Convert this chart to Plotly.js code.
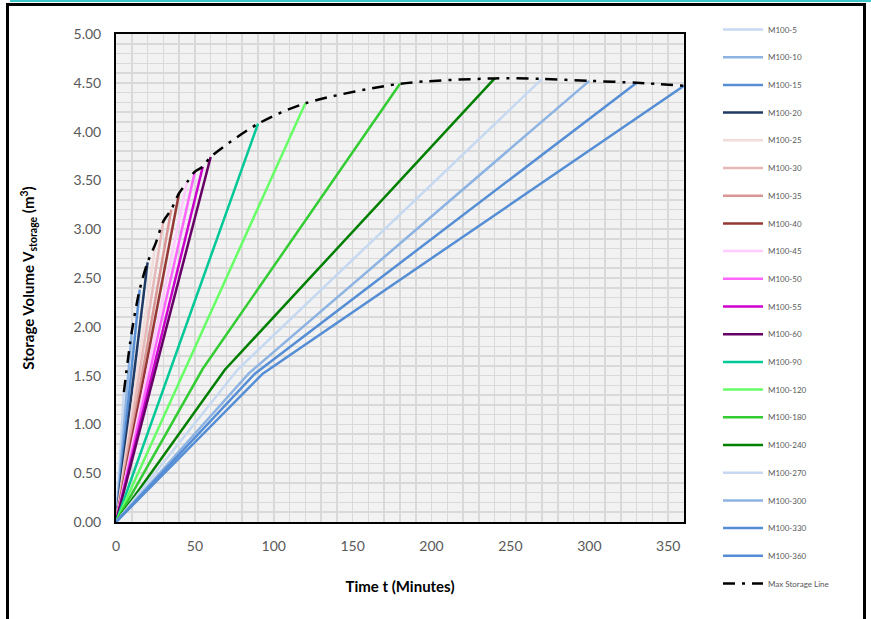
<!DOCTYPE html>
<html>
<head>
<meta charset="utf-8">
<script src="https://cdn.plot.ly/plotly-3.0.1.min.js"></script>
<style>
  html, body { margin: 0; padding: 0; background: #ffffff; overflow: hidden; }
  #chart { width: 871px; height: 619px; }
  #frame { position: absolute; left: 6px; top: 3px; width: 860px; height: 700px; border: 3px solid #000; box-sizing: border-box; pointer-events: none; }
  #topline { position: absolute; left: 10px; top: 0px; right: 0px; height: 2px; background: #3cc8c8; pointer-events: none; }
</style>
</head>
<body>
<div id="chart"></div>
<div id="topline"></div>
<div id="frame"></div>
<script>
// Series names and durations (minutes)
const seriesNames = ["M100-5","M100-10","M100-15","M100-20","M100-25","M100-30","M100-35","M100-40","M100-45","M100-50","M100-55","M100-60","M100-90","M100-120","M100-180","M100-240","M100-270","M100-300","M100-330","M100-360"];
const durations   = [5, 10, 15, 20, 25, 30, 35, 40, 45, 50, 55, 60, 90, 120, 180, 240, 270, 300, 330, 360];
// Peak storage volume reached at the end of each duration (m3)
const peakVolumes = [1.33, 1.95, 2.38, 2.66, 2.85, 3.08, 3.20, 3.37, 3.48, 3.59, 3.64, 3.74, 4.08, 4.29, 4.49, 4.545, 4.54, 4.52, 4.50, 4.47];
// Knee (change of filling rate) time and volume; null = straight line
const kneeTimes   = [null, null, null, null, null, null, null, null, null, null, null, null, null, null, 55, 69, 77, 84, 88, 93];
const kneeVolumes = [null, null, null, null, null, null, null, null, null, null, null, null, null, null, 1.57, 1.56, 1.56, 1.52, 1.52, 1.52];
const seriesColors = ["#c6d9f1","#8db3e2","#558ed5","#1f3864","#f2dcdb","#e6b9b8","#d99694","#953735","#ffccff","#ff66ff","#cc00cc","#660066","#00c896","#66ff66","#33cc33","#008000","#c6d9f1","#8db3e2","#558ed5","#558ed5"];

const xTickVals = [0, 50, 100, 150, 200, 250, 300, 350];
const yTickVals = [0, 0.5, 1, 1.5, 2, 2.5, 3, 3.5, 4, 4.5, 5];

const traces = [];
for (let i = 0; i < seriesNames.length; i++) {
  const xs = [0], ys = [0];
  if (kneeTimes[i] !== null) { xs.push(kneeTimes[i]); ys.push(kneeVolumes[i]); }
  xs.push(durations[i]); ys.push(peakVolumes[i]);
  traces.push({
    type: 'scatter', mode: 'lines', name: seriesNames[i], x: xs, y: ys,
    legendgroup: 'g' + i,
    line: { color: seriesColors[i], width: 2.5 }
  });
}
traces.push({
  type: 'scatter', mode: 'lines', name: 'Max Storage Line',
  x: durations, y: peakVolumes, legendgroup: 'gmax',
  line: { color: '#000000', width: 2.5, dash: '12px,7px,3px,7px', shape: 'spline', smoothing: 0.8 }
});

const gridCol = '#d9d9d9';
const layout = {
  width: 871, height: 619,
  paper_bgcolor: 'rgba(0,0,0,0)',
  plot_bgcolor: '#f2f2f2',
  margin: { l: 116, r: 187, t: 34, b: 97 },
  font: { family: 'Lato, "Open Sans", sans-serif', color: '#595959' },
  xaxis: {
    range: [0, 360], tickvals: xTickVals, ticktext: xTickVals.map(String),
    showgrid: true, gridcolor: gridCol, gridwidth: 1.5,
    minor: { dtick: 10, showgrid: true, gridcolor: gridCol, gridwidth: 1.5 },
    showline: true, linecolor: '#000', linewidth: 2, mirror: true,
    zeroline: false, ticks: '', ticklabelstandoff: 10,
    tickfont: { size: 14, color: '#595959' },
    title: { text: '<b>Time t (Minutes)</b>', font: { size: 15, color: '#000' }, standoff: 29 },
    automargin: false
  },
  yaxis: {
    range: [0, 5], tickvals: yTickVals, tickformat: '.2f',
    showgrid: true, gridcolor: gridCol, gridwidth: 1.5,
    minor: { dtick: 0.1, showgrid: true, gridcolor: gridCol, gridwidth: 1.5 },
    showline: true, linecolor: '#000', linewidth: 2, mirror: true,
    zeroline: false, ticks: '', ticklabelstandoff: 10,
    tickfont: { size: 14, color: '#595959' },
    title: { text: '<b>Storage Volume V<sub>storage</sub> (m<sup>3</sup>)</b>', font: { size: 15, color: '#000' }, standoff: 35 },
    automargin: false
  },
  showlegend: true,
  legend: {
    xref: 'container', yref: 'container',
    x: 718 / 871, y: 1 - 15 / 619, xanchor: 'left', yanchor: 'top',
    traceorder: 'grouped', tracegroupgap: 8.7, maxheight: 610,
    font: { size: 8, color: '#595959' },
    bgcolor: 'rgba(0,0,0,0)', itemwidth: 40
  }
};

Plotly.newPlot('chart', traces, layout, { displayModeBar: false, staticPlot: true });
</script>
</body>
</html>
